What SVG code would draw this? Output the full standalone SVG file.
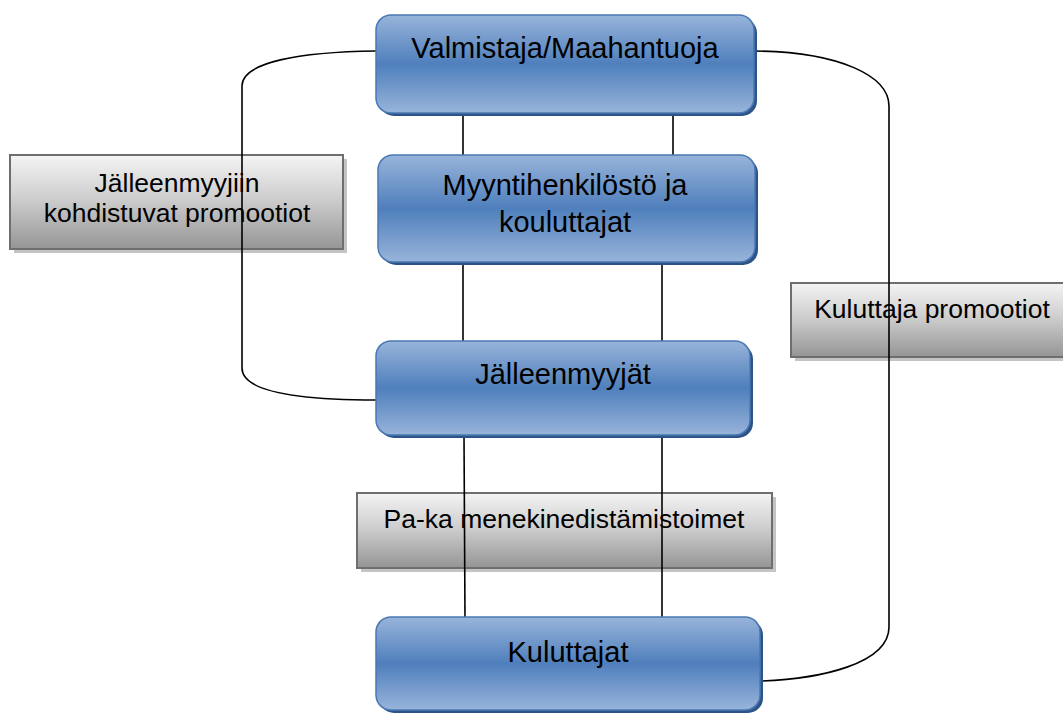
<svg xmlns="http://www.w3.org/2000/svg" width="1063" height="713" viewBox="0 0 1063 713">
<defs>
<linearGradient id="gBlue" x1="0" y1="0" x2="0" y2="1">
<stop offset="0" stop-color="#98b4da"/>
<stop offset="0.5" stop-color="#4f7fbc"/>
<stop offset="1" stop-color="#98b4da"/>
</linearGradient>
<linearGradient id="gGray" x1="0" y1="0" x2="0" y2="1">
<stop offset="0" stop-color="#f4f4f4"/>
<stop offset="0.45" stop-color="#cfcfcf"/>
<stop offset="1" stop-color="#959595"/>
</linearGradient>
<style>
.blue{fill:url(#gBlue);stroke:#4a78b3;stroke-width:1.5}
.bsh{fill:#2c5486}
.gray{fill:url(#gGray);stroke:#6e6e6e;stroke-width:2}
.gsh{fill:#c4c4c4}
.conn{fill:none;stroke:#000;stroke-width:1.6}
.bt{font-family:"Liberation Sans",Arial,sans-serif;font-size:29px;fill:#000;text-anchor:middle}
.gt{font-family:"Liberation Sans",Arial,sans-serif;font-size:26.5px;fill:#000;text-anchor:middle}
</style>
</defs>
<rect width="1063" height="713" fill="#fff"/>

<g id="node-jalleenmyyjiin-promootiot">
<rect class="gsh" x="14" y="159" width="333" height="94"/>
<rect class="gray" x="10" y="155" width="333" height="94"/>
<text class="gt" x="177" y="192">Jälleenmyyjiin</text>
<text class="gt" x="177" y="222">kohdistuvat promootiot</text>
</g>

<g id="node-kuluttaja-promootiot">
<rect class="gsh" x="795" y="287" width="282" height="74"/>
<rect class="gray" x="791" y="283" width="282" height="74"/>
<text class="gt" x="932" y="318">Kuluttaja promootiot</text>
</g>

<g id="node-paka">
<rect class="gsh" x="361" y="497" width="415" height="75"/>
<rect class="gray" x="357" y="493" width="415" height="75"/>
<text class="gt" x="564" y="528">Pa-ka menekinedistämistoimet</text>
</g>

<g id="connectors">
<path class="conn" d="M376 51 C300 52 242 62 242 86 L242 368 C242 392 300 400 376 400"/>
<path class="conn" d="M755 51 C840 52 889 76 889 106 L889 627 C889 664 820 679 760 681"/>
<line class="conn" x1="463" y1="113" x2="463" y2="156"/>
<line class="conn" x1="673" y1="113" x2="673" y2="156"/>
<line class="conn" x1="463" y1="262" x2="463" y2="342"/>
<line class="conn" x1="662" y1="262" x2="662" y2="342"/>
<line class="conn" x1="464" y1="435" x2="465" y2="618"/>
<line class="conn" x1="662" y1="435" x2="662" y2="618"/>
</g>

<g id="node-valmistaja">
<rect class="bsh" x="379" y="18" width="378" height="98" rx="15"/>
<rect class="blue" x="376" y="15" width="378" height="98" rx="15"/>
<text class="bt" x="565" y="58">Valmistaja/Maahantuoja</text>
</g>

<g id="node-myyntihenkilosto">
<rect class="bsh" x="381" y="158" width="377" height="107" rx="15"/>
<rect class="blue" x="378" y="155" width="377" height="107" rx="15"/>
<text class="bt" x="565" y="195">Myyntihenkilöstö ja</text>
<text class="bt" x="565" y="232">kouluttajat</text>
</g>

<g id="node-jalleenmyyjat">
<rect class="bsh" x="379" y="344" width="374" height="94" rx="15"/>
<rect class="blue" x="376" y="341" width="374" height="94" rx="15"/>
<text class="bt" x="563" y="384">Jälleenmyyjät</text>
</g>

<g id="node-kuluttajat">
<rect class="bsh" x="379" y="620" width="384" height="93" rx="15"/>
<rect class="blue" x="376" y="617" width="384" height="93" rx="15"/>
<text class="bt" x="568" y="662">Kuluttajat</text>
</g>
</svg>
